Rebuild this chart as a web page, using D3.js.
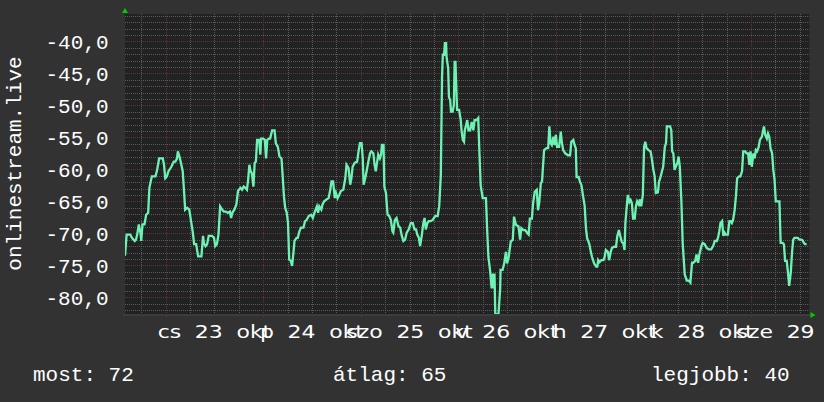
<!DOCTYPE html>
<html><head><meta charset="utf-8">
<script src="https://cdn.jsdelivr.net/npm/d3@7"></script>
<style>html,body{margin:0;padding:0;background:#323232;}svg{display:block;}</style>
</head><body>
<script>
// ---- data ----
const startTime = new Date(2025, 9, 22, 14, 0);
const endTime = new Date(2025, 9, 29, 14, 24);
const yTicks = [-80, -75, -70, -65, -60, -55, -50, -45, -40];
const dayNames = ["cs", "p", "szo", "v", "h", "k", "sze"];
const dayNums = [23, 24, 25, 26, 27, 28, 29];
const monthName = "okt";
const axisTitle = "onlinestream.live";
const legendLabels = ["most: 72", "átlag: 65", "legjobb: 40"];
// hours after startTime
const hours = [0.0,0.4,1.3,1.7,2.4,2.7,3.0,3.4,3.8,4.0,4.3,4.8,5.2,5.7,6.0,6.6,7.5,7.9,8.4,9.3,9.6,9.9,10.3,10.7,11.4,12.0,12.4,12.8,13.0,13.4,13.7,14.2,14.5,14.8,15.3,15.8,16.2,16.7,17.0,17.5,18.0,18.8,19.2,19.4,19.8,20.2,20.6,21.4,21.9,22.2,22.6,23.0,23.4,23.9,24.3,24.8,25.3,25.8,26.1,26.4,26.9,27.4,27.8,28.4,28.8,29.2,29.6,30.0,30.3,30.6,30.9,31.2,31.6,31.9,32.2,32.5,33.0,33.3,33.5,34.0,34.4,34.7,35.0,35.4,35.7,36.2,36.8,37.1,37.6,38.0,38.5,38.8,39.1,39.4,39.8,40.1,40.4,40.8,41.1,41.4,41.7,42.2,
42.5,42.9,43.3,43.9,44.3,44.7,45.2,45.8,46.2,46.6,47.2,47.5,47.8,48.3,48.6,49.0,49.6,50.1,50.5,50.8,51.2,51.6,51.9,52.3,52.7,53.1,53.7,54.2,54.5,55.0,55.4,55.7,56.0,56.5,57.1,57.5,57.8,58.2,58.5,58.7,59.1,59.5,59.8,60.3,60.6,61.1,61.4,61.7,62.0,62.3,62.7,63.0,63.2,63.6,63.8,64.2,64.6,65.0,65.4,65.8,66.0,66.4,66.8,67.3,67.7,68.1,68.5,68.9,69.3,69.8,70.3,70.8,71.2,71.6,71.9,72.3,72.6,73.0,73.4,73.7,74.0,74.4,74.7,75.2,75.7,76.3,76.9,77.3,77.7,
78.0,78.2,78.5,78.7,79.0,79.1,79.5,79.7,80.0,80.2,80.6,80.9,81.1,81.3,81.5,81.7,82.2,82.6,82.8,83.1,83.4,83.6,83.9,84.2,84.5,84.9,85.3,85.7,86.0,86.5,86.9,87.2,87.5,88.0,88.5,88.8,89.1,89.4,89.8,90.2,90.5,90.8,90.9,91.1,91.6,91.9,92.3,92.4,92.9,93.3,93.7,94.0,94.4,94.9,95.4,95.7,96.2,96.8,97.2,97.5,98.0,98.5,99.0,99.3,99.6,100.1,100.4,100.8,101.3,101.6,101.9,102.3,102.6,103.1,103.7,104.1,104.4,104.7,105.0,105.4,105.7,106.0,106.3,106.8,107.2,107.5,107.8,108.3,109.0,109.5,109.8,110.3,110.6,110.9,111.1,111.6,111.9,112.3,112.6,113.1,113.4,113.7,114.2,114.6,114.9,115.4,115.9,116.2,116.4,116.7,117.2,117.7,118.0,118.3,118.8,119.1,119.5,119.8,120.3,120.8,121.1,121.5,121.8,122.2,122.6,122.9,123.1,123.4,123.7,124.1,124.4,124.7,125.0,125.4,125.7,
126.0,126.4,126.7,127.0,127.4,127.7,128.0,128.3,128.8,129.3,129.6,130.0,130.3,130.6,131.1,131.4,131.8,132.1,132.4,132.8,133.1,133.3,133.7,134.1,134.4,134.6,134.9,135.2,135.5,135.9,136.2,136.5,136.9,137.2,137.7,138.2,138.7,139.1,139.5,139.8,140.3,140.6,141.0,141.3,141.8,142.1,142.6,143.1,143.6,144.2,144.7,145.1,145.6,145.9,146.2,146.5,146.9,147.2,147.5,147.8,148.3,148.7,149.0,149.3,149.6,150.0,150.3,150.6,151.1,151.4,151.8,152.1,152.6,152.9,153.3,153.6,153.9,154.2,154.6,154.9,155.2,155.5,155.9,156.2,156.7,157.0,157.2,157.5,157.9,158.2,158.5,158.8,159.2,159.5,159.8,160.1,160.6,161.0,161.3,161.8,162.1,162.4,162.8,163.1,163.4,163.8,164.1,164.4,164.7,165.2,165.5,165.9,166.4,166.7,167.0,167.3,167.7];
const values = [-73.5,-70.2,-70.2,-70.7,-71.2,-71.0,-70.2,-68.6,-69.9,-71.2,-68.6,-68.6,-67.1,-66.8,-62.9,-61.1,-61.1,-60.1,-58.3,-58.3,-59.3,-61.4,-61.1,-60.3,-59.6,-58.8,-58.8,-58.3,-57.2,-58.0,-58.8,-60.3,-63.2,-66.3,-66.0,-66.3,-67.9,-69.9,-71.7,-71.7,-73.6,-73.6,-70.4,-71.5,-72.0,-71.7,-70.4,-70.4,-70.7,-72.0,-71.7,-70.2,-65.8,-66.3,-66.6,-66.6,-66.8,-66.6,-67.6,-66.8,-66.3,-65.5,-63.4,-62.9,-63.2,-62.7,-62.9,-63.2,-61.6,-59.3,-60.3,-60.6,-62.7,-59.0,-58.8,-55.4,-55.4,-57.7,-55.2,-55.2,-55.4,-58.3,-55.4,-55.2,-55.2,-53.9,-53.9,-55.9,-56.5,-58.0,-58.3,-61.1,-64.2,-66.0,-66.8,-68.4,-74.1,-74.3,-75.1,-73.3,-71.2,-70.7,
-70.7,-69.7,-69.1,-69.1,-68.1,-67.9,-67.3,-67.1,-67.6,-66.8,-65.8,-66.8,-65.8,-66.3,-65.5,-65.0,-64.7,-64.5,-63.2,-61.9,-61.9,-64.5,-63.7,-64.5,-64.0,-63.4,-63.2,-61.4,-59.3,-59.8,-62.4,-61.4,-59.6,-59.0,-58.8,-57.0,-55.9,-55.9,-58.3,-62.4,-61.4,-60.1,-59.0,-57.5,-57.2,-57.5,-59.3,-60.3,-59.0,-57.7,-58.3,-57.7,-56.2,-56.2,-62.7,-63.7,-67.1,-67.3,-67.9,-69.7,-69.9,-67.9,-67.6,-68.9,-69.1,-70.4,-71.2,-71.0,-69.9,-69.4,-68.4,-68.4,-69.4,-69.4,-70.2,-70.7,-72.0,-70.4,-68.4,-67.6,-69.4,-68.4,-68.1,-68.1,-67.9,-67.3,-67.3,-65.8,-60.9,
-45.5,-42.1,-42.1,-40.3,-40.3,-42.4,-44.2,-48.7,-49.2,-51.0,-51.0,-50.0,-43.2,-43.2,-47.1,-50.7,-50.7,-52.3,-53.9,-55.4,-55.7,-53.9,-53.1,-52.3,-53.9,-53.9,-52.6,-53.9,-52.3,-52.3,-52.0,-57.5,-62.5,-64.5,-64.5,-64.5,-69.5,-73.7,-75.7,-78.6,-76.3,-78.6,-76.3,-82.5,-82.8,-82.5,-78.6,-75.7,-75.7,-74.7,-72.9,-74.7,-73.7,-71.3,-71.0,-67.4,-68.7,-68.9,-71.0,-69.2,-69.5,-69.5,-70.0,-70.2,-67.7,-67.7,-65.3,-63.5,-63.2,-66.4,-65.3,-62.2,-61.9,-57.0,-56.7,-56.7,-53.3,-55.9,-56.2,-54.9,-56.2,-54.6,-56.5,-56.5,-54.1,-55.9,-57.0,-57.5,-57.8,-57.8,-55.7,-55.4,-56.2,-56.7,-61.2,-61.2,-61.9,-62.5,-63.8,-65.8,-69.2,-70.8,-71.6,-72.9,-73.7,-74.7,-75.2,-75.2,-74.2,-74.5,-74.2,-74.2,-73.7,-72.6,-72.9,-74.2,-72.9,-72.3,-72.1,-72.1,-70.5,-69.5,-70.3,-71.3,-71.6,-72.6,-68.4,-66.1,-64.0,-65.1,-64.8,-65.3,-67.7,-67.7,-65.8,
-65.0,-65.5,-64.7,-65.8,-64.0,-56.5,-55.7,-56.7,-57.0,-57.2,-58.3,-60.1,-61.1,-63.7,-63.6,-61.9,-61.1,-60.3,-59.6,-56.5,-55.9,-53.3,-53.3,-53.3,-53.9,-57.2,-57.5,-60.1,-59.6,-59.0,-58.0,-59.6,-65.3,-71.5,-76.4,-77.4,-77.4,-77.7,-74.6,-74.6,-74.3,-73.3,-74.6,-73.3,-72.0,-71.5,-71.7,-72.3,-72.5,-72.5,-72.0,-71.2,-71.2,-70.7,-69.7,-68.4,-68.1,-70.4,-69.9,-70.2,-70.2,-68.1,-68.1,-68.4,-67.9,-66.3,-64.2,-61.4,-61.1,-61.1,-60.3,-57.2,-57.2,-57.5,-57.5,-59.3,-57.2,-59.6,-57.5,-58.3,-57.0,-57.2,-56.5,-55.4,-54.9,-53.9,-53.3,-54.6,-55.2,-54.4,-54.9,-56.7,-57.5,-60.1,-61.6,-65.0,-65.0,-65.0,-71.5,-71.5,-71.7,-74.3,-74.3,-76.1,-78.2,-76.1,-73.0,-71.0,-70.7,-70.7,-70.7,-71.0,-71.0,-71.1,-71.5,-71.7,-71.7];

// ---- layout ----
const W = 824, H = 402;
const plot = {left: 125, right: 809.5, top: 14, bottom: 314};
const svg = d3.select("body").append("svg").attr("width", W).attr("height", H);
svg.append("rect").attr("width", W).attr("height", H).attr("fill", "#323232");

const x = d3.scaleTime().domain([startTime, endTime]).range([plot.left, plot.right]);
const y = d3.scaleLinear().domain([-82.61, -35.73]).range([plot.bottom, plot.top]);

svg.append("rect").attr("x", plot.left).attr("y", plot.top)
  .attr("width", plot.right - plot.left).attr("height", plot.bottom - plot.top)
  .attr("fill", "#222222");

const grid = svg.append("g");
const minorCol = "#5a5a5a", majorCol = "#5c3535";
const minorY = d3.range(-82, -35, 1).filter(v => v % 5 !== 0);
grid.selectAll("line.hmin").data(minorY).join("line")
  .attr("x1", plot.left).attr("x2", plot.right)
  .attr("y1", d => Math.round(y(d)) + 0.5).attr("y2", d => Math.round(y(d)) + 0.5)
  .attr("stroke", minorCol).attr("stroke-dasharray", "1,1");
const minorX = d3.timeHour.every(6).range(startTime, endTime).filter(d => d.getHours() !== 0);
grid.selectAll("line.vmin").data(minorX).join("line")
  .attr("y1", plot.top).attr("y2", plot.bottom)
  .attr("x1", d => Math.round(x(d)) + 0.5).attr("x2", d => Math.round(x(d)) + 0.5)
  .attr("stroke", minorCol).attr("stroke-dasharray", "1,1");
grid.selectAll("line.hmaj").data(yTicks).join("line")
  .attr("x1", plot.left).attr("x2", plot.right)
  .attr("y1", d => Math.round(y(d)) + 0.5).attr("y2", d => Math.round(y(d)) + 0.5)
  .attr("stroke", majorCol).attr("stroke-dasharray", "1,1");
const majorX = d3.timeDay.range(startTime, endTime);
grid.selectAll("line.vmaj").data(majorX).join("line")
  .attr("y1", plot.top).attr("y2", plot.bottom + 3)
  .attr("x1", d => Math.round(x(d)) + 0.5).attr("x2", d => Math.round(x(d)) + 0.5)
  .attr("stroke", majorCol).attr("stroke-dasharray", "1,1");

// axes lines
svg.append("line").attr("x1", plot.left - 2).attr("x2", plot.right + 2)
  .attr("y1", plot.bottom + 1).attr("y2", plot.bottom + 1).attr("stroke", "#3c3c3c").attr("stroke-width", 2);

// arrows
svg.append("path").attr("d", `M${plot.left - 3},${plot.top - 1}L${plot.left + 3},${plot.top - 1}L${plot.left},${plot.top - 6}Z`).attr("fill", "#00cc00");
svg.append("path").attr("d", `M${plot.right + 1},${plot.bottom - 2}L${plot.right + 1},${plot.bottom + 4}L${plot.right + 6},${plot.bottom + 1}Z`).attr("fill", "#00cc00");

// data line
svg.append("clipPath").attr("id", "clip").append("rect")
  .attr("x", plot.left).attr("y", plot.top).attr("width", plot.right - plot.left).attr("height", plot.bottom - plot.top);
const pts = hours.map((h, i) => ({t: new Date(+startTime + h * 3600e3), v: values[i]}));
const line = d3.line().x(d => x(d.t)).y(d => y(d.v));
svg.append("path").datum(pts).attr("d", line).attr("fill", "none")
  .attr("stroke", "#6ef2b4").attr("stroke-width", 2.3).attr("stroke-linejoin", "miter")
  .attr("clip-path", "url(#clip)");

// y labels
const mono = "'Liberation Mono', 'DejaVu Sans Mono', monospace";
svg.selectAll("text.yl").data(yTicks).join("text")
  .attr("x", 108.5).attr("y", d => y(d) + 7.5)
  .attr("text-anchor", "end").attr("fill", "#ffffff")
  .style("font-family", mono).style("font-size", "21px")
  .text(d => d3.format(".1f")(d).replace(".", ",").replace("−", "-"));

// x labels (centered at noon of each day, horizontally stretched); neighbours overlap like the original
const stretch = 1.22;
const noon = dayNums.map(d => new Date(2025, 9, d, 12, 0));
const xg = svg.selectAll("g.xl").data(noon).join("g")
  .attr("transform", d => `translate(${x(d)},338) scale(${stretch},1)`);
const xl = xg.append("text").attr("x", 0).attr("y", 0)
  .attr("text-anchor", "middle").attr("fill", "#ffffff")
  .style("font-family", "'DejaVu Sans', sans-serif").style("font-size", "18px")
  .style("word-spacing", "5.5px");
xl.each(function(d, i) {
  const t = d3.select(this);
  t.append("tspan").text(dayNames[i] + " " + dayNums[i] + " ");
  t.append("tspan").attr("class", "mon").text(monthName);
});
// a month piece that would fall outside the picture is not drawn (label keeps its place)
xl.each(function(d) {
  const b = this.getBBox();
  if (x(d) + stretch * (b.x + b.width) > W) {
    const t = d3.select(this);
    t.attr("text-anchor", "start").attr("x", b.x);
    t.select("tspan.mon").remove();
  }
});

// axis title
svg.append("text").attr("transform", "translate(20.5,163.5) rotate(-90)")
  .attr("text-anchor", "middle").attr("fill", "#ffffff")
  .style("font-family", mono).style("font-size", "21px").text(axisTitle);

// legend
const legendX = [33, 333, 651];
svg.selectAll("text.lg").data(legendLabels).join("text")
  .attr("x", (d, i) => legendX[i]).attr("y", 381)
  .attr("fill", "#ffffff").style("font-family", mono).style("font-size", "21px")
  .text(d => d);
</script>
</body></html>
